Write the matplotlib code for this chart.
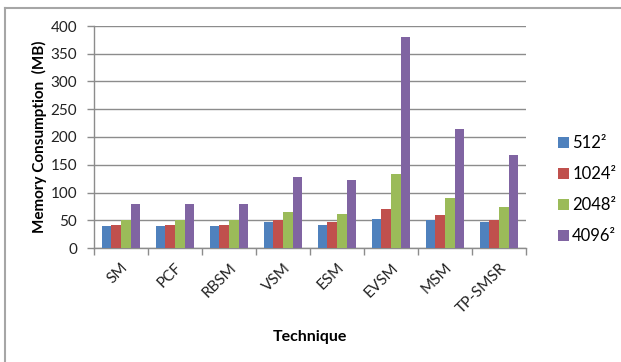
import numpy as np
import matplotlib
matplotlib.use('Agg')
import matplotlib.pyplot as plt
import matplotlib.transforms as mtransforms
from matplotlib.lines import Line2D

# ── Data ──────────────────────────────────────────────────────────────────────
techniques = ['SM', 'PCF', 'RBSM', 'VSM', 'ESM', 'EVSM', 'MSM', 'TP-SMSR']
res_labels = ['512²', '1024²', '2048²', '4096²']
mem_512 = [39, 39, 39, 47, 41, 53, 50, 46]
mem_1024 = [41, 41, 41, 50, 46, 70, 60, 50]
mem_2048 = [50, 50, 50, 65, 62, 133, 90, 74]
mem_4096 = [79, 79, 79, 128, 123, 380, 214, 168]
colors = ['#4F81BD', '#C0504D', '#9BBB59', '#8064A2']

plt.rcParams['font.family'] = ['Lato', 'DejaVu Sans']

fig = plt.figure(figsize=(6.21, 3.62), dpi=100)
W, H = 621, 362
ax = fig.add_axes([94 / W, 1 - 248 / H, (526 - 94) / W, (248 - 26) / H])

x = np.arange(len(techniques))
bw = 0.18
series = [mem_512, mem_1024, mem_2048, mem_4096]
for i, (vals, c) in enumerate(zip(series, colors)):
    ax.bar(x + (i - 1.5) * bw, vals, width=bw, color=c, zorder=3,
           label=res_labels[i])

ax.set_xlim(-0.5, len(techniques) - 0.5)
ax.set_ylim(0, 400)
ax.set_yticks(np.arange(0, 401, 50))
ax.grid(axis='y', color='#8C8C8C', lw=1.0, zorder=0)

ax.set_xticks(x)
ax.set_xticklabels(techniques, rotation=45, ha='right', rotation_mode='anchor',
                   fontsize=11, color='#222222')
shift = mtransforms.ScaledTranslation(6 / 100, 0, fig.dpi_scale_trans)
for lbl in ax.get_xticklabels():
    lbl.set_transform(lbl.get_transform() + shift)
ax.set_xticks(np.arange(-0.5, len(techniques)), minor=True)
ax.tick_params(axis='x', which='major', length=0, pad=9)
ax.tick_params(axis='x', which='minor', length=5, color='#8C8C8C', width=1)
ax.tick_params(axis='y', length=5, color='#8C8C8C', width=1, labelsize=11,
               labelcolor='#222222', pad=7)

for s in ['top', 'right']:
    ax.spines[s].set_visible(False)
for s in ['left', 'bottom']:
    ax.spines[s].set_color('#8C8C8C')
    ax.spines[s].set_linewidth(1.0)

ax.set_ylabel('Memory Consumption  (MB)', fontsize=11, fontweight='bold',
              labelpad=3)
ax.set_xlabel('Technique', fontsize=11.5, fontweight='bold', labelpad=10)

leg = fig.legend(loc='upper left', bbox_to_anchor=(543 / W, 1 - 120 / H),
                 frameon=False, fontsize=12, handlelength=0.65,
                 handleheight=0.65, handletextpad=0.2, labelspacing=0.9)

# outer chart border (top and left visible)
fig.add_artist(Line2D([4.5 / W, 1], [1 - 8 / H, 1 - 8 / H], color='#A6A6A6',
                      lw=1.5, transform=fig.transFigure))
fig.add_artist(Line2D([4.5 / W, 4.5 / W], [0, 1 - 8 / H], color='#A6A6A6',
                      lw=1.5, transform=fig.transFigure))

fig.savefig('out.png', dpi=100)
